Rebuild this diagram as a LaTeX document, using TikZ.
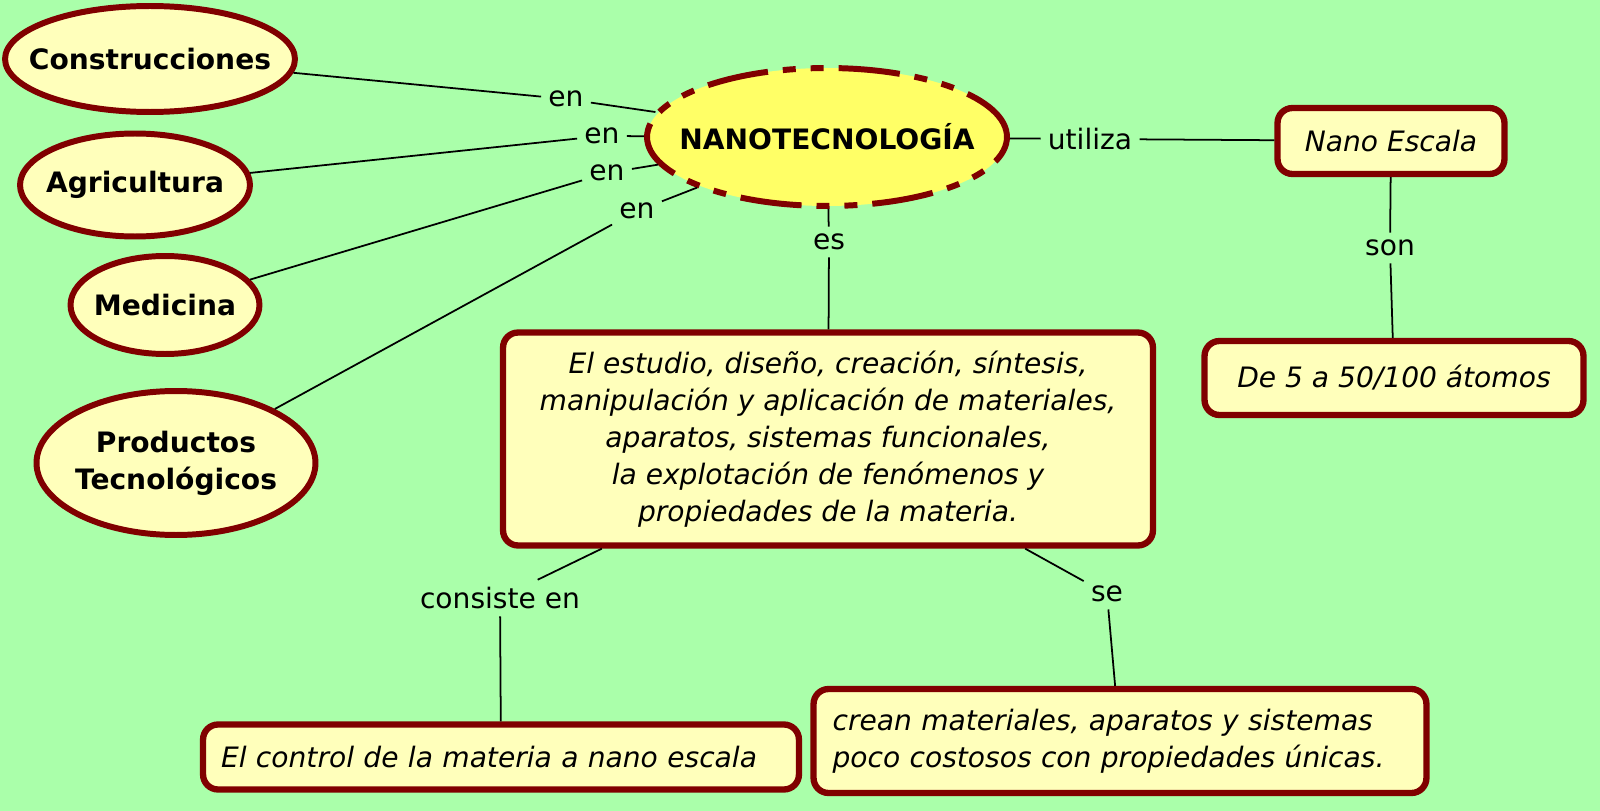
\documentclass[tikz,border=0pt]{standalone}
\usepackage{fontspec}
\setmainfont{DejaVu Sans}
\usetikzlibrary{shapes.geometric}
\definecolor{fondo}{RGB}{170,255,170}
\definecolor{borde}{RGB}{128,0,0}
\definecolor{crema}{RGB}{255,255,187}
\definecolor{amarillo}{RGB}{255,255,102}
\tikzset{
  tema/.style={ellipse, draw=borde, fill=crema, line width=3.4pt,
               font=\bfseries, align=center, inner xsep=-2cm, inner ysep=-1cm},
  centro/.style={tema, fill=amarillo,
                 dash pattern=on 35pt off 8.5pt on 7.4pt off 8.5pt on 7.4pt off 8.5pt},
  caja/.style={rectangle, rounded corners=0.3cm, draw=borde, fill=crema,
               line width=3.6pt, font=\itshape, inner sep=0pt},
  enlace/.style={inner sep=4pt},
  linea/.style={draw=black, line width=1pt}
}
\begin{document}
\fontsize{16pt}{21pt}\selectfont
\begin{tikzpicture}[x=0.02cm, y=-0.02cm]
\fill[fondo] (0,0) rectangle (1600,811);
\useasboundingbox (0,0) rectangle (1600,811);

\node[centro, minimum width=7.2cm, minimum height=2.76cm] (nano) at (827,137) {NANOTECNOLOGÍA};

\node[tema, minimum width=5.8cm, minimum height=2.12cm] (construcciones) at (150,59) {Construcciones};
\node[tema, minimum width=4.6cm, minimum height=2.06cm] (agricultura) at (135,185) {Agricultura};
\node[tema, minimum width=3.78cm, minimum height=1.96cm] (medicina) at (165,305) {Medicina};
\node[tema, minimum width=5.58cm, minimum height=2.88cm] (productos) at (176,463) {Productos\\ Tecnológicos};

\node[caja, minimum width=4.54cm, minimum height=1.32cm] (escala) at (1391,141) {Nano Escala};
\node[caja, minimum width=7.58cm, minimum height=1.48cm] (atomos) at (1394,378) {De 5 a 50/100 átomos};
\node[caja, minimum width=13cm, minimum height=4.26cm, align=center] (estudio) at (828,439)
  {El estudio, diseño, creación, síntesis,\\
   manipulación y aplicación de materiales,\\
   aparatos, sistemas funcionales,\\
   la explotación de fenómenos y\\
   propiedades de la materia.};
\node[caja, minimum width=11.92cm, minimum height=1.3cm, text width=11.2cm, align=left] (control) at (501,757)
  {El control de la materia a nano escala};
\node[caja, minimum width=12.26cm, minimum height=2.08cm, text width=11.5cm, align=left] (crean) at (1120,741)
  {crean materiales, aparatos y sistemas\\
   poco costosos con propiedades únicas.};

\node[enlace] (enA) at (566,99) {en};
\node[enlace] (enB) at (602,136) {en};
\node[enlace] (enC) at (607,173) {en};
\node[enlace] (enD) at (637,211) {en};
\node[enlace] (es) at (829,242) {es};
\node[enlace] (utiliza) at (1090,139) {utiliza};
\node[enlace] (son) at (1390,248) {son};
\node[enlace] (consiste) at (500,598) {consiste en};
\node[enlace] (se) at (1107,594) {se};

\draw[linea] (construcciones) -- (enA) -- (nano);
\draw[linea] (agricultura) -- (enB) -- (nano);
\draw[linea] (medicina) -- (enC) -- (nano);
\draw[linea] (productos) -- (enD) -- (nano);
\draw[linea] (nano) -- (es) -- (estudio);
\draw[linea] (nano) -- (utiliza) -- (escala);
\draw[linea] (escala) -- (son) -- (atomos);
\draw[linea] (estudio) -- (consiste) -- (control);
\draw[linea] (estudio) -- (se) -- (crean);
\end{tikzpicture}
\end{document}
